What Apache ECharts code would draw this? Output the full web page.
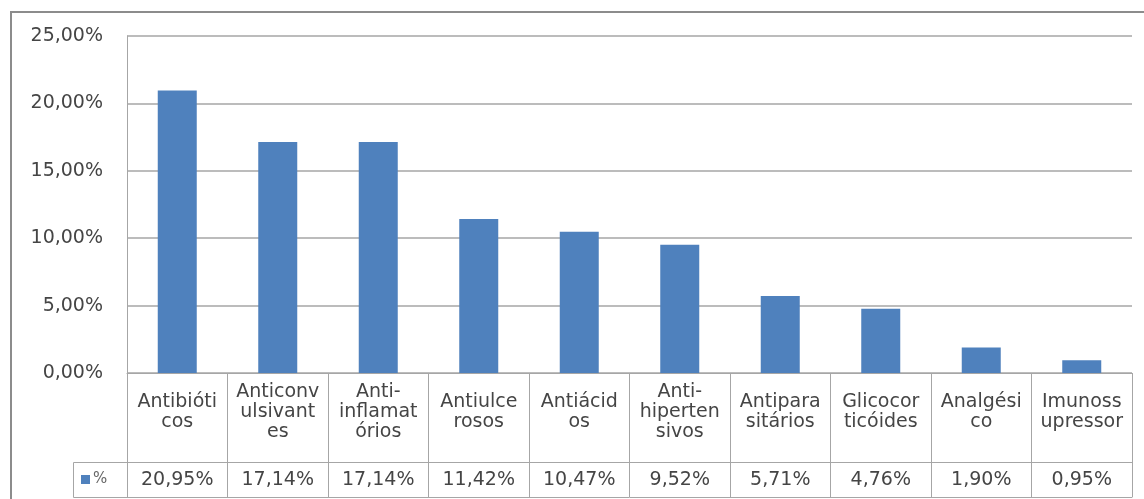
<!DOCTYPE html>
<html>
<head>
<meta charset="utf-8">
<script src="https://cdn.jsdelivr.net/npm/echarts@6/dist/echarts.min.js"></script>
<style>
  html, body { margin: 0; padding: 0; background: #ffffff; }
  #chart { width: 1144px; height: 499px; }
</style>
</head>
<body>
<div id="chart"></div>
<script>
// Drug classes (wrapped the way the table cells show them) and their share in percent
const categories = [
  'Antibióti\ncos', 'Anticonv\nulsivant\nes', 'Anti-\ninflamat\nórios', 'Antiulce\nrosos',
  'Antiácid\nos', 'Anti-\nhiperten\nsivos', 'Antipara\nsitários', 'Glicocor\nticóides',
  'Analgési\nco', 'Imunoss\nupressor'
];
const values = [20.95, 17.14, 17.14, 11.42, 10.47, 9.52, 5.71, 4.76, 1.90, 0.95];
const seriesName = '%';
const yTicks = { min: 0, max: 25, interval: 5 };

const FONT = 'DejaVu Sans';
const TEXT = '#454545';
const LINE = '#a6a6a6';
const BAR = '#4F81BD';

const pct = v => v.toFixed(2).replace('.', ',') + '%';

// Plot area and data-table geometry
const G = { left: 127, right: 12, top: 36, bottom: 126 };
const W = 1144, H = 499;
const axisY = H - G.bottom;     // baseline of the plot
const labelRow = 89;            // height of the category row of the table
const valueRow = 35;            // height of the value row of the table
const keyLeft = 73;             // left edge of the legend-key cell

const chart = echarts.init(document.getElementById('chart'), null, { renderer: 'canvas' });

chart.setOption({
  animation: false,
  backgroundColor: '#ffffff',
  textStyle: { fontFamily: FONT },
  grid: { left: G.left, right: G.right, top: G.top, bottom: G.bottom, containLabel: false },
  legend: {
    data: [seriesName],
    left: keyLeft + 8,
    top: axisY + labelRow + 10,
    icon: 'rect',
    itemWidth: 9,
    itemHeight: 9,
    itemGap: 4,
    padding: 0,
    textStyle: { fontFamily: FONT, fontSize: 15, color: '#666666', padding: [0, 0, 0, -2] }
  },
  xAxis: [
    {
      type: 'category',
      data: categories,
      position: 'bottom',
      axisLine: { show: true, lineStyle: { color: LINE, width: 1 } },
      axisTick: { show: true, length: labelRow + valueRow, lineStyle: { color: LINE, width: 1 } },
      axisLabel: {
        interval: 0,
        margin: 39,
        verticalAlign: 'middle',
        fontFamily: FONT,
        fontSize: 19,
        lineHeight: 20,
        color: TEXT,
        align: 'center'
      },
      splitLine: { show: false }
    },
    {
      type: 'category',
      data: values.map(pct),
      position: 'bottom',
      offset: labelRow,
      axisLine: { show: true, lineStyle: { color: LINE, width: 1 } },
      axisTick: { show: false },
      axisLabel: {
        interval: 0,
        margin: 18,
        verticalAlign: 'middle',
        fontFamily: FONT,
        fontSize: 19,
        color: TEXT
      }
    },
    {
      type: 'category',
      data: categories,
      position: 'bottom',
      offset: labelRow + valueRow,
      axisLine: { show: true, lineStyle: { color: LINE, width: 1 } },
      axisTick: { show: false },
      axisLabel: { show: false }
    }
  ],
  yAxis: {
    type: 'value',
    min: yTicks.min,
    max: yTicks.max,
    interval: yTicks.interval,
    axisLine: { show: true, lineStyle: { color: LINE, width: 1 } },
    axisTick: { show: false },
    axisLabel: {
      margin: 24,
      fontFamily: FONT,
      fontSize: 19,
      color: TEXT,
      formatter: v => pct(v)
    },
    splitLine: { show: true, lineStyle: { color: LINE, width: 1.5 } }
  },
  series: [
    {
      name: seriesName,
      type: 'bar',
      data: values,
      xAxisIndex: 0,
      barWidth: 39,
      itemStyle: { color: BAR }
    }
  ],
  graphic: [
    // chart frame
    {
      type: 'rect',
      shape: { x: 11, y: 12, width: W + 50, height: H + 50 },
      style: { fill: 'none', stroke: '#8c8c8c', lineWidth: 2 },
      silent: true
    },
    // legend-key cell of the data table
    {
      type: 'polyline',
      shape: {
        points: [
          [G.left, axisY + labelRow + 0.5],
          [keyLeft + 0.5, axisY + labelRow + 0.5],
          [keyLeft + 0.5, axisY + labelRow + valueRow + 0.5],
          [G.left, axisY + labelRow + valueRow + 0.5]
        ]
      },
      style: { fill: 'none', stroke: LINE, lineWidth: 1 },
      silent: true
    }
  ]
});
</script>
</body>
</html>
